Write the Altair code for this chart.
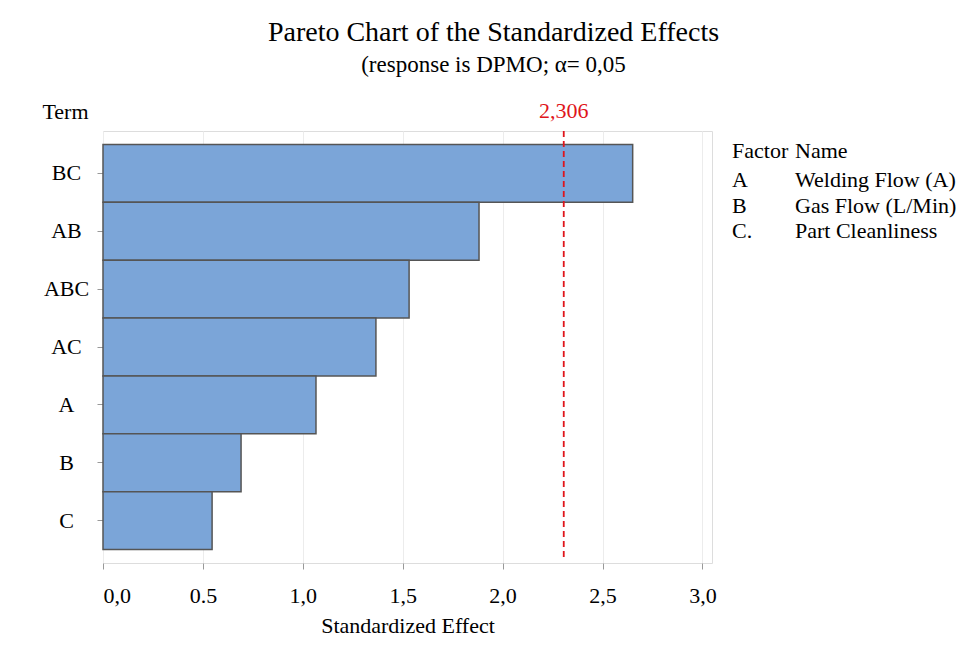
import altair as alt
import pandas as pd

terms = ["BC", "AB", "ABC", "AC", "A", "B", "C"]
effects = [2.651, 1.882, 1.532, 1.366, 1.066, 0.691, 0.546]
critical = 2.306
critical_label = "2,306"
tick_values = [0.0, 0.5, 1.0, 1.5, 2.0, 2.5, 3.0]
tick_labels = ["0,0", "0.5", "1,0", "1,5", "2,0", "2,5", "3,0"]
factor_codes = ["Factor", "A", "B", "C."]
factor_names = ["Name", "Welding Flow (A)", "Gas Flow (L/Min)", "Part Cleanliness"]

FONT = "Liberation Serif"
FS = 22

bars_df = pd.DataFrame({"term": terms, "effect": effects})
ref_df = pd.DataFrame({"value": [critical], "label": [critical_label]})
leg_df = pd.DataFrame({"row": list(range(len(factor_codes))), "code": factor_codes, "name": factor_names})

label_expr = "[" + ",".join(f"'{t}'" for t in tick_labels) + "][round(datum.value*2)]"

W, H = 609, 432
xscale = alt.Scale(domain=[0, 3.048], nice=False, zero=False)

bars = alt.Chart(bars_df).mark_bar(
    color="#7BA5D8", stroke="#555555", strokeWidth=1.5
).encode(
    x=alt.X("effect:Q", scale=xscale,
            axis=alt.Axis(values=tick_values, labelExpr=label_expr, title="Standardized Effect",
                          grid=True, gridColor="#ececec", domain=False, tickColor="#999999",
                          tickSize=6, labelFontSize=FS, labelFont=FONT, labelColor="black",
                          labelPadding=16, titleFont=FONT, titleFontSize=FS, titleFontWeight="normal",
                          titleColor="black", titlePadding=9)),
    y=alt.Y("term:N", sort=terms,
            scale=alt.Scale(paddingInner=0, paddingOuter=0.233),
            axis=alt.Axis(title="Term", titleAngle=0, titleAlign="right", titleBaseline="alphabetic",
                          titleX=-15, titleY=-13, titleFont=FONT, titleFontSize=FS,
                          titleFontWeight="normal", titleColor="black",
                          domain=False, tickColor="#999999", tickSize=6, labelPadding=31,
                          labelAlign="center",
                          labelFont=FONT, labelFontSize=FS, labelColor="black")),
)

rule = alt.Chart(ref_df).mark_rule(color="#e0151b", strokeDash=[6, 4], strokeWidth=1.8).encode(
    x=alt.X("value:Q", scale=xscale),
    y=alt.value(0), y2=alt.value(H - 3),
)

rule_label = alt.Chart(ref_df).mark_text(color="#e0151b", font=FONT, fontSize=FS, baseline="alphabetic").encode(
    x=alt.X("value:Q", scale=xscale),
    y=alt.value(-13),
    text="label:N",
)

leg_y = alt.Y("row:Q", scale=alt.Scale(domain=[0, 1, 3], range=[20, 49, 100]), axis=None)
leg_codes = alt.Chart(leg_df).mark_text(align="left", baseline="middle", font=FONT, fontSize=FS, color="black").encode(
    x=alt.value(629), y=leg_y, text="code:N")
leg_names = alt.Chart(leg_df).mark_text(align="left", baseline="middle", font=FONT, fontSize=FS, color="black").encode(
    x=alt.value(692), y=leg_y, text="name:N")

chart = alt.layer(bars, rule, rule_label, leg_codes, leg_names).resolve_scale(
    y="independent"
).properties(
    width=W, height=H,
    title=alt.TitleParams(
        text="Pareto Chart of the Standardized Effects",
        subtitle="(response is DPMO; α= 0,05",
        anchor="middle", dx=86, offset=23,
        font=FONT, fontSize=28, fontWeight="normal", color="black",
        subtitleFont=FONT, subtitleFontSize=23, subtitleColor="black", subtitlePadding=7,
    ),
    autosize="none",
    padding={"left": 95, "top": 123, "right": 252, "bottom": 81},
).configure_view(
    stroke="#999999", strokeWidth=1.5
).configure(background="white")

chart.save("out.html", embed_options={"renderer": "svg", "actions": False})
